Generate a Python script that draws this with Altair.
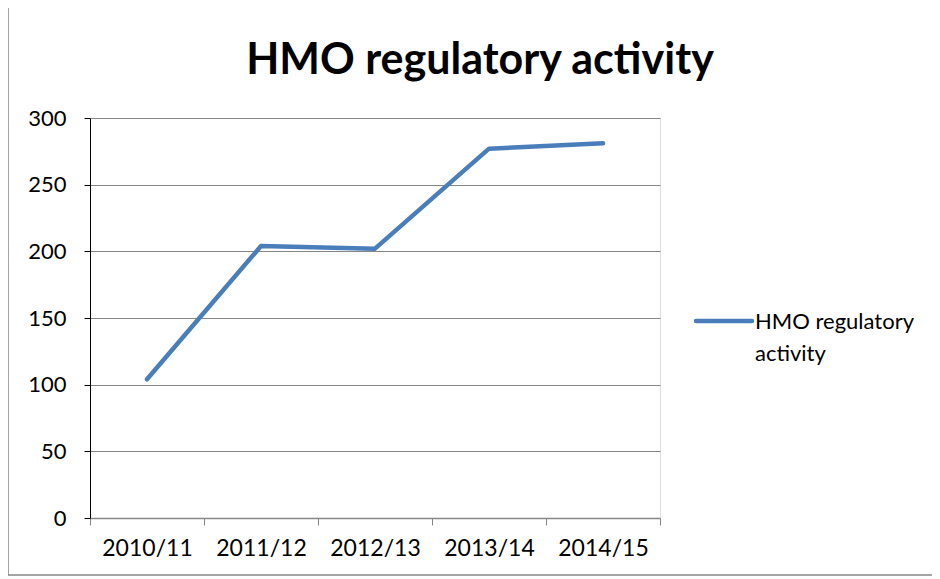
import altair as alt
import pandas as pd

years = ["2010/11", "2011/12", "2012/13", "2013/14", "2014/15"]
values = [104, 204, 202, 277, 281]
series_name = "HMO regulatory activity"
legend_lines = "HMO regulatory\nactivity"

df = pd.DataFrame({"year": years, "value": values, "series": [series_name] * len(years)})
legend_df = pd.DataFrame({"label": [legend_lines]})

FONT = "Lato"
BLUE = "#4a7ebb"

line = alt.Chart(df).mark_line(strokeWidth=4.5, strokeCap="round", strokeJoin="round", color=BLUE).encode(
    x=alt.X(
        "year:N",
        sort=years,
        scale=alt.Scale(type="band", paddingInner=0, paddingOuter=0),
        axis=alt.Axis(
            title=None,
            tickBand="extent",
            labelAngle=0,
            domainColor="#868686",
            domainWidth=1.5,
            tickColor="#868686",
            tickSize=7,
            labelPadding=12,
            labelFontSize=23,
            labelFont=FONT,
            labelColor="#000000",
            grid=False,
        ),
    ),
    y=alt.Y(
        "value:Q",
        scale=alt.Scale(domain=[0, 300]),
        axis=alt.Axis(
            title=None,
            values=[0, 50, 100, 150, 200, 250, 300],
            domainColor="#000000",
            tickColor="#000000",
            tickSize=6,
            labelPadding=18,
            labelFontSize=22,
            labelFont=FONT,
            labelColor="#000000",
            gridColor="#868686",
            gridWidth=1,
        ),
    ),
)

legend_symbol = alt.Chart(legend_df).mark_rule(color=BLUE, strokeWidth=4.5, strokeCap="round").encode(
    x=alt.value(606), x2=alt.value(662), y=alt.value(203)
)
legend_text = alt.Chart(legend_df).mark_text(
    align="left", baseline="middle", font=FONT, fontSize=22, lineBreak="\n", lineHeight=32, color="#000000"
).encode(text="label:N", x=alt.value(665), y=alt.value(204))

frame = alt.Chart(legend_df).mark_rule(color="#868686", strokeWidth=1.5).encode(
    x=alt.value(-82), x2=alt.value(-82), y=alt.value(-110), y2=alt.value(457)
)
frame_b = alt.Chart(legend_df).mark_rule(color="#868686", strokeWidth=1.5).encode(
    x=alt.value(-82), x2=alt.value(850), y=alt.value(457)
)

chart = alt.layer(line, legend_symbol, legend_text, frame, frame_b).properties(
    width=570,
    height=400,
    autosize=alt.AutoSizeParams(type="none"),
    padding={"left": 82, "top": 110, "right": 272, "bottom": 60},
    title=alt.TitleParams(
        text="HMO regulatory activity",
        font=FONT,
        fontSize=43,
        fontWeight="bold",
        color="#000000",
        anchor="middle",
        frame="group",
        dx=105,
        offset=-110,
        baseline="alphabetic",
    ),
).configure_view(stroke=None).configure(background="white")

chart.save("out.html", embed_options={"renderer": "svg", "actions": False})
